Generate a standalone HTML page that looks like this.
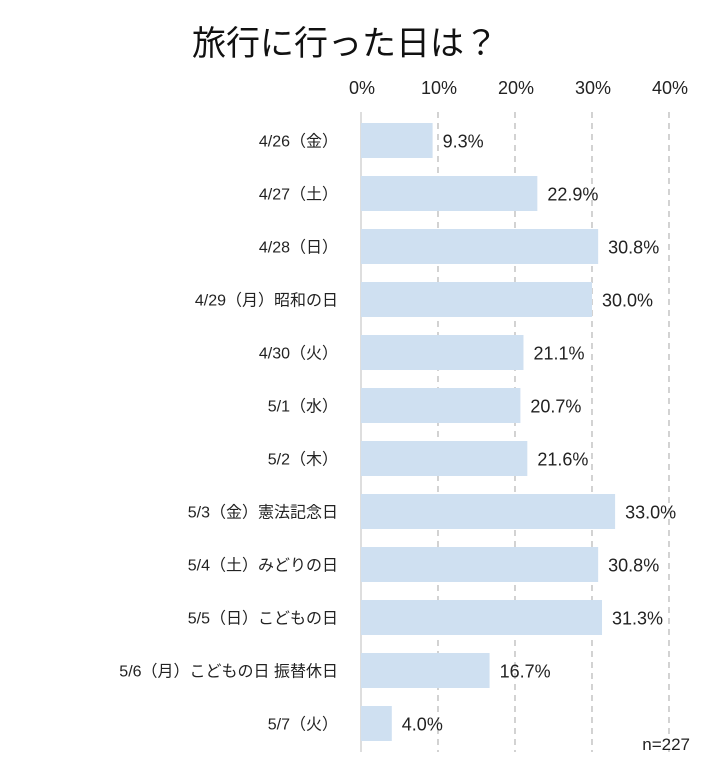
<!DOCTYPE html>
<html><head><meta charset="utf-8">
<style>
body{margin:0;background:#fff;}
svg{display:block;font-family:"Liberation Sans","Noto Sans CJK JP",sans-serif;}
</style></head>
<body>
<svg id="chart" width="702" height="764" viewBox="0 0 702 764">
<text x="345" y="55" text-anchor="middle" font-size="34" fill="#111">旅行に行った日は？</text>
<g id="grid"></g><g id="bars"></g><g id="labels"></g>
<text x="690" y="750" text-anchor="end" font-size="17" fill="#222">n=227</text>
</svg>
<script>
const categories=["4/26（金）","4/27（土）","4/28（日）","4/29（月）昭和の日","4/30（火）","5/1（水）","5/2（木）","5/3（金）憲法記念日","5/4（土）みどりの日","5/5（日）こどもの日","5/6（月）こどもの日 振替休日","5/7（火）"];
const values=[9.3,22.9,30.8,30.0,21.1,20.7,21.6,33.0,30.8,31.3,16.7,4.0];
const ticks=[0,10,20,30,40];
const NS="http://www.w3.org/2000/svg";
const x0=361, pxPer=7.7, y0=123, step=53, bh=35;
const xs=v=>x0+v*pxPer;
const ys=i=>y0+i*step;
function mk(tag,attrs,parent){const e=document.createElementNS(NS,tag);for(const k in attrs)e.setAttribute(k,attrs[k]);document.getElementById(parent).appendChild(e);return e;}
ticks.forEach(t=>{
  const l=mk('line',{x1:xs(t),x2:xs(t),y1:112,y2:752,stroke:t===0?'#ccc':'#bbb','stroke-width':1.3,'stroke-dasharray':t===0?'':'6,5'},'grid');
  
  
  const tx=mk('text',{x:xs(t)+1,y:94,'text-anchor':'middle','font-size':18,fill:'#222'},'grid');
  tx.textContent=t+'%';
  
  
});
categories.forEach((c,i)=>{
  const r=mk('rect',{x:x0,y:ys(i),width:xs(values[i])-x0,height:bh,fill:'#cfe0f1'},'bars');
  
  
  const v=mk('text',{x:xs(values[i])+10,y:ys(i)+bh/2+7,'font-size':18,fill:'#222'},'labels');
  v.textContent=values[i].toFixed(1)+'%';
  
  
  const cl=mk('text',{x:338,y:ys(i)+bh/2+6,'text-anchor':'end','font-size':16,fill:'#222'},'labels');
  cl.textContent=c;
  
  
});
</script>
</body></html>
